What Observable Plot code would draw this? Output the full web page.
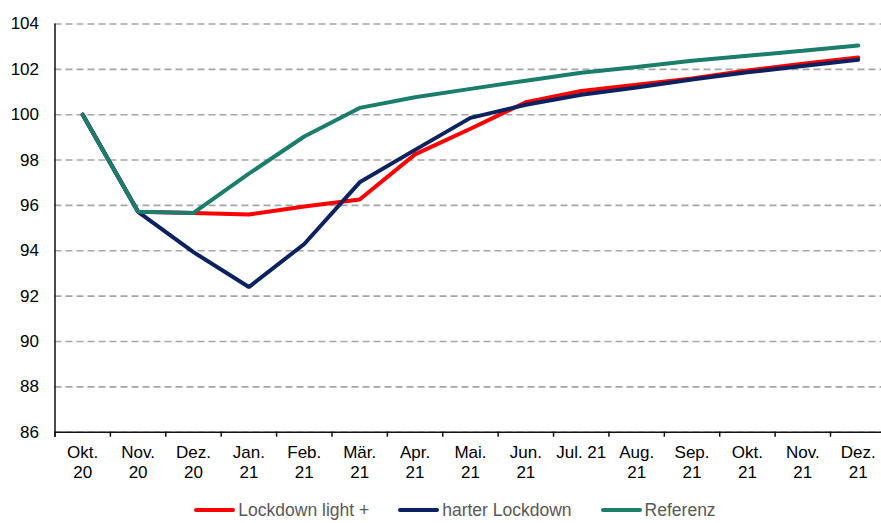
<!DOCTYPE html>
<html>
<head>
<meta charset="utf-8">
<script src="https://cdn.jsdelivr.net/npm/d3@7"></script>
<script src="https://cdn.jsdelivr.net/npm/@observablehq/plot@0.6"></script>
<style>
  html, body { margin: 0; padding: 0; background: #fff; }
  body { width: 881px; height: 523px; overflow: hidden; font-family: "Liberation Sans", Arial, sans-serif; }
  #chart svg { display: block; }
  .legend { display: flex; justify-content: center; align-items: center; padding-left: 29px; height: 28px; margin-top: 4px;
            font-size: 17.5px; color: #595959; }
  .item { display: flex; align-items: center; margin: 0 14.5px; }
  .sw { width: 41px; height: 4px; border-radius: 2px; margin-right: 3px; }
</style>
</head>
<body>
<div id="chart"></div>
<div class="legend" id="legend"></div>
<script>
// ---- data ----
const months = ["Okt.\n20", "Nov.\n20", "Dez.\n20", "Jan.\n21", "Feb.\n21", "Mär.\n21", "Apr.\n21", "Mai.\n21",
                "Jun.\n21", "Jul. 21", "Aug.\n21", "Sep.\n21", "Okt.\n21", "Nov.\n21", "Dez.\n21"];
const seriesNames = ["Lockdown light +", "harter Lockdown", "Referenz"];
const seriesColors = ["#ff0000", "#0b2160", "#1b7d6c"];
const lockdownLight = [100, 95.72, 95.67, 95.6, 95.95, 96.26, 98.25, 99.38, 100.55, 101.05, 101.32, 101.6, 101.95, 102.25, 102.52];
const harterLockdown = [100, 95.72, 93.94, 92.4, 94.3, 97.02, 98.45, 99.86, 100.44, 100.88, 101.2, 101.55, 101.87, 102.15, 102.42];
const referenz = [100, 95.72, 95.67, 97.4, 99.04, 100.3, 100.77, 101.14, 101.5, 101.85, 102.1, 102.38, 102.6, 102.82, 103.05];
const yTicks = [86, 88, 90, 92, 94, 96, 98, 100, 102, 104];

const seriesValues = [lockdownLight, harterLockdown, referenz];
const rows = seriesNames.map((name, s) => months.map((m, i) => ({series: name, month: m, value: seriesValues[s][i]})));

const x0 = 54.5, x1 = 885.4;
const half = (x1 - x0) / months.length / 2;

const chart = Plot.plot({
  width: 881,
  height: 492,
  marginLeft: 54.5,
  marginRight: 0,
  marginTop: 23.5,
  marginBottom: 60.3,
  style: {fontSize: "17px", fontFamily: "'Liberation Sans', Arial, sans-serif", color: "#000", background: "#fff"},
  x: {type: "point", domain: months, range: [x0, x1], padding: 0.5, round: false},
  y: {domain: [86, 104], range: [431.7, 23.5]},
  color: {domain: seriesNames, range: seriesColors},
  marks: [
    Plot.gridY(yTicks, {stroke: "#a6a6a6", strokeOpacity: 1, strokeWidth: 1.6, strokeDasharray: "7,4"}),
    Plot.axisY(yTicks, {tickSize: 0, tickPadding: 16, label: null, fontSize: 17}),
    Plot.axisX({tickSize: 0, tickPadding: 12, label: null, fontSize: 17, lineHeight: 1.18}),
    Plot.ruleY([86], {stroke: "#111", strokeWidth: 1.5}),
    Plot.ruleX([months[0]], {dx: -half, y1: 104, y2: 86, insetBottom: -5, stroke: "#111", strokeWidth: 1.5}),
    Plot.ruleX(months, {x: d => d, dx: -half, y1: 86, y2: 86, insetBottom: -5, stroke: "#111", strokeWidth: 1.5}),
    ...rows.map(r => Plot.lineY(r, {x: "month", y: "value", stroke: "series", strokeWidth: 4, strokeLinecap: "round", strokeLinejoin: "miter"}))
  ]
});
document.getElementById("chart").appendChild(chart);

const legend = document.getElementById("legend");
seriesNames.forEach((name, i) => {
  const it = document.createElement("div");
  it.className = "item";
  const sw = document.createElement("div");
  sw.className = "sw";
  sw.style.background = seriesColors[i];
  const t = document.createElement("span");
  t.textContent = name;
  it.appendChild(sw);
  it.appendChild(t);
  legend.appendChild(it);
});
</script>
</body>
</html>
